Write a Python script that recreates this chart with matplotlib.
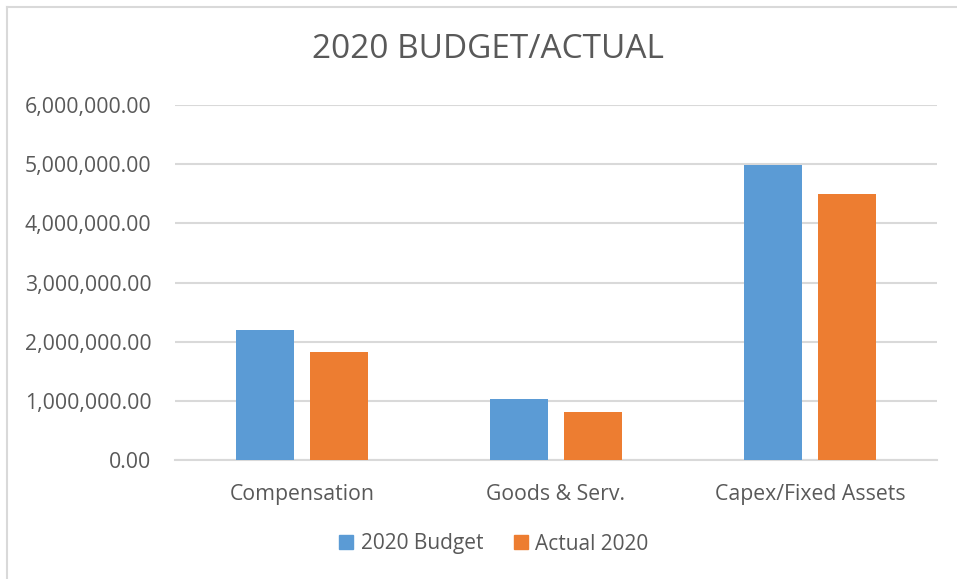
import matplotlib
matplotlib.use("Agg")
import matplotlib.pyplot as plt
import numpy as np
from matplotlib.ticker import FuncFormatter
from matplotlib.lines import Line2D

categories = ["Compensation", "Goods & Serv.", "Capex/Fixed Assets"]
budget_2020 = [2200000, 1030000, 4980000]
actual_2020 = [1820000, 810000, 4500000]
series_names = ["2020 Budget", "Actual 2020"]
title = "2020 BUDGET/ACTUAL"

blue = "#5B9BD5"
orange = "#ED7D31"
text_c = "#595959"
grid_c = "#D9D9D9"

plt.rcParams['font.family'] = ['Open Sans', 'DejaVu Sans']

fig = plt.figure(figsize=(9.57, 5.79), dpi=100)
ax = fig.add_axes([175/957, 1-460/579, (937-175)/957, (460-105)/579])

x = np.arange(len(categories))
w = 0.228
off = 0.144
ax.bar(x - off, budget_2020, w, color=blue, label=series_names[0], zorder=3)
ax.bar(x + off, actual_2020, w, color=orange, label=series_names[1], zorder=3)

ax.set_xlim(-0.5, 2.5)
ax.set_ylim(0, 6000000)
ax.set_yticks(np.arange(0, 6000001, 1000000))
ax.yaxis.set_major_formatter(FuncFormatter(lambda v, p: f"{v:,.2f}"))
ax.set_xticks(x)
ax.set_xticklabels(categories)
ax.grid(axis='y', color=grid_c, linewidth=1.5, zorder=0)
ax.set_axisbelow(True)
for s in ["top", "right", "left"]:
    ax.spines[s].set_visible(False)
ax.spines["bottom"].set_color(grid_c)
ax.spines["bottom"].set_linewidth(1.5)
ax.tick_params(axis='both', length=0, labelsize=15.3, colors=text_c)
ax.tick_params(axis='y', pad=17)
ax.tick_params(axis='x', pad=17)

fig.text(488/957, 1-50/579, title, ha='center', va='center', fontsize=24, color=text_c)

handles = [Line2D([], [], marker='s', linestyle='none', markersize=10, color=blue),
           Line2D([], [], marker='s', linestyle='none', markersize=10, color=orange)]
fig.legend(handles, series_names, loc='center', bbox_to_anchor=(492/957, 1-544/579),
           ncol=2, frameon=False, fontsize=15, labelcolor=text_c, handletextpad=0.2,
           columnspacing=1.3, handlelength=1.0)

# chart border (left and top)
fig.add_artist(Line2D([7/957, 7/957], [0, 1-7/579], color=grid_c, linewidth=1.5, transform=fig.transFigure))
fig.add_artist(Line2D([7/957, 1], [1-7/579, 1-7/579], color=grid_c, linewidth=1.5, transform=fig.transFigure))

fig.savefig("out.png", dpi=100, facecolor='white')
